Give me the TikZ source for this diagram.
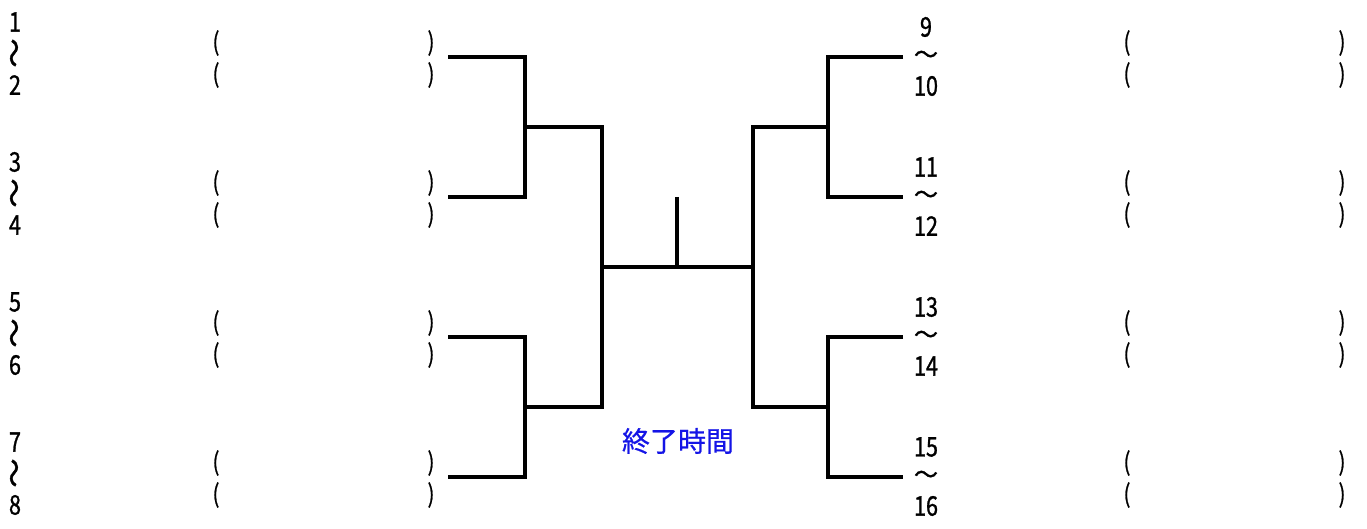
\documentclass[tikz,border=0pt]{standalone}
\usepackage{fontspec}
\setmainfont{Noto Sans CJK JP}
\newfontfamily\numfont[FakeStretch=0.8,FakeBold=1]{Noto Sans CJK JP}
\newfontfamily\wavefont[FakeBold=1.5]{Noto Sans CJK JP}
\newfontfamily\timefont[FakeBold=0.6]{Noto Sans CJK JP}
\usetikzlibrary{positioning}
\definecolor{timeblue}{RGB}{20,20,230}

\begin{document}
\begin{tikzpicture}[x=1pt,y=-1pt,on grid,line width=3.2pt,
  num/.style={inner sep=0pt,font=\numfont\fontsize{27}{27}\selectfont},
  wave/.style={inner sep=0pt,font=\wavefont\fontsize{24}{24}\selectfont},
  vwave/.style={wave,xshift=2.5pt,rotate=90,font=\wavefont\fontsize{29}{29}\selectfont},
  paren/.style={inner sep=0pt,font=\numfont\fontsize{25}{25}\selectfont}]
\useasboundingbox (0,0) rectangle (1367,529);

% left seeds
\foreach \a/\b/\y in {1/2/22, 3/4/162, 5/6/302, 7/8/442} {
  \node[num] (n\a) at (15,\y) {\a};
  \node[vwave] (w\a) [below=31pt of n\a] {～};
  \node[num] (n\b) [below=63pt of n\a] {\b};
  \node[paren] (lo\a) at (216,\y+21) {(};
  \node[paren] (lc\a) [right=215pt of lo\a] {)};
  \node[paren] (lo\b) [below=32pt of lo\a] {(};
  \node[paren] (lc\b) [right=215pt of lo\b] {)};
}

% right seeds
\foreach \a/\b/\y in {9/10/27, 11/12/167, 13/14/307, 15/16/447} {
  \node[num] (n\a) at (926,\y) {\a};
  \node[wave] (w\a) [below=30pt of n\a] {～};
  \node[num] (n\b) [below=59pt of n\a] {\b};
  \node[paren] (ro\a) at (1127,\y+16) {(};
  \node[paren] (rc\a) [right=215pt of ro\a] {)};
  \node[paren] (ro\b) [below=32pt of ro\a] {(};
  \node[paren] (rc\b) [right=215pt of ro\b] {)};
}

\node[inner sep=0pt,font=\timefont\fontsize{28}{28}\selectfont,text=timeblue] (endtime) at (678,441) {終了時間};

% bracket
\coordinate (s1) at (448,57);
\coordinate (s2) at (448,197);
\coordinate (s3) at (448,337);
\coordinate (s4) at (448,477);
\coordinate (j1) at (525,127);
\coordinate (j2) at (525,407);
\coordinate (c) at (602,267);
\coordinate (top) at (677,197);
\coordinate (d) at (753,267);
\coordinate (k1) at (828,127);
\coordinate (k2) at (828,407);
\coordinate (t1) at (903,57);
\coordinate (t2) at (903,197);
\coordinate (t3) at (903,337);
\coordinate (t4) at (903,477);

\draw (s1) -| (j1) |- (s2);
\draw (s3) -| (j2) |- (s4);
\draw (j1) -| (c) |- (j2);
\draw (c) -- (d);
\draw (top) -- (top |- c);
\draw (k1) -| (d) |- (k2);
\draw (t1) -| (k1) |- (t2);
\draw (t3) -| (k2) |- (t4);
\end{tikzpicture}
\end{document}
